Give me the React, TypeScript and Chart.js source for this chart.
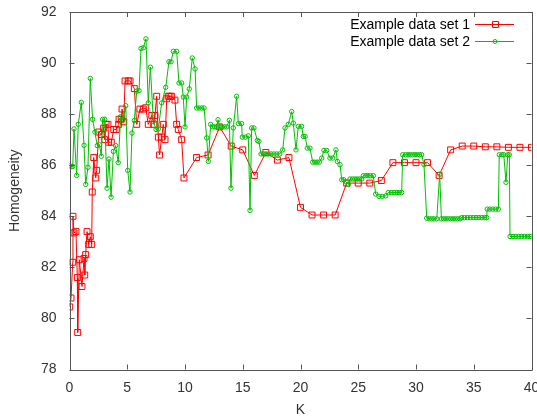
import { useEffect, useRef } from 'react';
import { Chart, registerables } from 'chart.js';

Chart.register(...registerables);

const FONT = '"Liberation Sans", Arial, sans-serif';
const TEXT = '#333333';
const FRAME = '#555555';
const RED = 'rgb(255,0,0)';
const GREEN = 'rgb(0,192,0)';

const seriesNames = ['Example data set 1', 'Example data set 2'];
const xTicks = [0, 5, 10, 15, 20, 25, 30, 35, 40];
const yTicks = [78, 80, 82, 84, 86, 88, 90, 92];

// Example data set 1
const set1K = [
  0.02, 0.13, 0.28, 0.3, 0.39, 0.56, 0.68, 0.71, 0.85, 1.08, 1.26, 1.32, 1.4, 1.52, 1.66, 1.8, 1.92, 1.97,
  2.1, 2.27, 2.35, 2.53, 2.75, 2.96, 3.05, 3.16, 3.33, 3.39, 3.62, 3.83, 4.05, 4.26, 4.29, 4.48, 4.55, 4.7,
  4.81, 5.09, 5.24, 5.61, 5.82, 6.1, 6.39, 6.6, 6.82, 7.12, 7.3, 7.4, 7.55, 7.69, 7.8, 7.98, 8.12, 8.27,
  8.42, 8.55, 8.7, 8.85, 9.13, 9.28, 9.42, 9.71, 9.91,
  11, 12, 13, 14, 15, 16, 17, 18, 19, 20, 21, 22, 23, 24, 25, 26, 27, 28, 29, 30, 31, 32, 33, 34, 35, 36,
  37, 38, 39, 40,
];
const set1H = [
  80.45, 80.8, 82.2, 84.0, 83.35, 83.4, 81.6, 79.45, 82.3, 81.25, 82.35, 81.7, 82.5, 83.4, 82.9, 83.2, 82.9, 84.95,
  86.3, 85.5, 85.8, 87.3, 87.2, 87.45, 87.0, 87.6, 87.6, 86.9, 86.9, 87.4, 87.4, 87.6, 87.8, 87.8, 88.2, 87.7,
  89.3, 89.3, 89.3, 89.0, 87.6, 88.2, 88.2, 88.25, 87.6, 87.95, 87.6, 87.95, 88.7, 87.1, 86.4, 87.1, 87.6, 87.0,
  88.6, 88.7, 88.7, 88.7, 88.55, 87.6, 87.4, 87.0, 85.5,
  86.3, 86.4, 87.5, 86.75, 86.6, 85.6, 86.5, 86.2, 86.3, 84.35, 84.05, 84.05, 84.05, 85.3, 85.3, 85.3, 85.4, 86.1,
  86.1, 86.1, 86.1, 85.6, 86.6, 86.75, 86.75, 86.72, 86.72, 86.7, 86.7, 86.7,
];

// Example data set 2
const set2K = [
  0.0, 0.15, 0.28, 0.39, 0.62, 0.76, 1.02, 1.26, 1.4, 1.6, 1.8, 2.0, 2.2, 2.4, 2.6, 2.75, 2.87, 3.05, 3.25,
  3.42, 3.6, 3.8, 3.99, 4.22, 4.43, 4.66, 4.87, 5.04, 5.24, 5.41, 5.61, 5.82, 6.02, 6.19, 6.39, 6.62, 6.82,
  7.0, 7.26, 7.49, 7.69, 7.98, 8.33, 8.61, 8.79, 8.99, 9.28, 9.48, 9.71, 9.85, 10.0, 10.15, 10.37, 10.63,
  10.87, 11.01, 11.22, 11.45, 11.65, 11.88, 12.02, 12.22, 12.4, 12.57, 12.74, 12.86, 13.02, 13.18, 13.4,
  13.61, 13.84, 13.98, 14.18, 14.47, 14.62, 14.9, 14.96, 15.22, 15.48, 15.63, 15.77, 15.97, 16.26, 16.4,
  16.58, 16.8, 17.0, 17.2, 17.45, 17.7, 17.95, 18.2, 18.46, 18.66, 18.94, 19.24, 19.38, 19.61, 19.81, 20.1,
  20.24, 20.4, 20.59, 20.82, 21.06, 21.25, 21.45, 21.63, 21.84, 22.03, 22.27, 22.55, 22.79, 23.07, 23.19,
  23.42, 23.57, 23.75, 23.95, 24.14, 24.29, 24.5, 24.7, 24.9, 25.1, 25.3, 25.44, 25.65, 25.85, 26.05, 26.3,
  26.51, 26.8, 27.08, 27.38, 27.6, 27.85, 28.1, 28.35, 28.55, 28.76, 28.85, 29.1, 29.3, 29.5, 29.7, 29.9,
  30.1, 30.3, 30.49, 30.69, 30.93, 31.15, 31.35, 31.55, 31.8, 32.05, 32.2, 32.4, 32.6, 32.8, 33.0, 33.2,
  33.4, 33.6, 33.8, 33.96, 34.2, 34.45, 34.7, 34.95, 35.2, 35.45, 35.7, 35.95, 36.12, 36.17, 36.4, 36.65,
  36.9, 37.13, 37.21, 37.45, 37.6, 37.79, 37.95, 38.08, 38.14, 38.4, 38.65, 38.9, 39.15, 39.4, 39.65,
  39.85, 40.0,
];
const set2H = [
  85.98, 85.95, 85.95, 87.42, 85.6, 87.6, 88.46, 86.78, 85.25, 85.92, 89.4, 87.8, 87.3, 86.77, 86.8, 86.35, 87.8, 87.8, 85.1,
  86.24, 84.75, 86.54, 86.77, 86.1, 87.9, 87.8, 88.33, 85.8, 84.95, 87.26, 87.75, 88.9, 88.92, 90.57, 90.6, 90.95, 88.44,
  89.84, 87.72, 87.4, 87.42, 88.44, 89.05, 90.05, 90.05, 90.46, 90.46, 89.22, 89.22, 88.67, 87.5, 88.67, 88.99, 90.2,
  89.77, 88.24, 88.24, 88.24, 88.24, 87.07, 86.15, 87.6, 87.5, 87.5, 87.5, 87.78, 87.5, 87.5, 87.5,
  87.5, 87.76, 85.1, 87.46, 88.7, 87.63, 87.63, 87.1, 87.1, 87.15, 84.23, 87.46, 87.46, 86.97, 86.93,
  86.44, 86.44, 86.44, 86.44, 86.44, 86.44, 86.44, 86.44, 86.6, 87.46, 87.6, 88.1, 87.65, 86.6, 87.52, 87.52,
  87.13, 87.13, 86.67, 86.67, 86.12, 86.12, 86.12, 86.12, 86.28, 86.58, 86.58, 86.28, 86.28, 86.6, 86.15,
  86.02, 85.43, 85.43, 85.35, 85.24, 85.46, 85.46, 85.46, 85.46, 85.46, 85.46, 85.59, 85.59, 85.59, 85.59, 85.59,
  84.87, 84.78, 84.78, 84.8, 84.93, 84.93, 84.93, 84.93, 84.93, 84.93, 86.41, 86.41, 86.41, 86.41, 86.41, 86.41,
  86.41, 86.41, 86.41, 86.02, 83.93, 83.9, 83.9, 83.9, 83.9, 85.65, 83.9, 83.9, 83.9, 83.9, 83.9, 83.9,
  83.9, 83.9, 83.9, 83.95, 83.95, 83.95, 83.95, 83.95, 83.95, 83.95, 83.95, 83.95, 83.95, 84.28, 84.28, 84.28,
  84.28, 84.28, 86.41, 86.41, 86.41, 85.33, 86.41, 86.41, 83.21, 83.21, 83.21, 83.21, 83.21, 83.21, 83.21,
  83.21, 83.21,
];

const framePlugin = {
  id: 'gnuplotFrame',
  afterDraw(chart: any) {
    const { ctx, chartArea: a, scales } = chart;
    const xs = scales.x;
    const ys = scales.y;
    ctx.save();
    ctx.strokeStyle = FRAME;
    ctx.lineWidth = 1;
    ctx.beginPath();
    ctx.rect(Math.round(a.left) + 0.5, Math.round(a.top) + 0.5, Math.round(a.right - a.left), Math.round(a.bottom - a.top));
    ctx.stroke();
    const tl = 5;
    ctx.beginPath();
    xTicks.forEach((v) => {
      const px = Math.round(xs.getPixelForValue(v)) + 0.5;
      ctx.moveTo(px, a.bottom);
      ctx.lineTo(px, a.bottom - tl);
      ctx.moveTo(px, a.top);
      ctx.lineTo(px, a.top + tl);
    });
    yTicks.forEach((v) => {
      const py = Math.round(ys.getPixelForValue(v)) + 0.5;
      ctx.moveTo(a.left, py);
      ctx.lineTo(a.left + tl, py);
      ctx.moveTo(a.right, py);
      ctx.lineTo(a.right - tl, py);
    });
    ctx.stroke();

    // legend
    const colors = [RED, GREEN];
    const rows = [24, 41];
    ctx.font = `14px ${FONT}`;
    ctx.textAlign = 'right';
    ctx.textBaseline = 'middle';
    seriesNames.forEach((name, i) => {
      const y = rows[i];
      ctx.fillStyle = '#000';
      ctx.fillText(name, 470, y + 1);
      ctx.strokeStyle = colors[i];
      ctx.lineWidth = 1;
      ctx.beginPath();
      ctx.moveTo(475, y + 0.5);
      ctx.lineTo(514, y + 0.5);
      ctx.stroke();
      ctx.beginPath();
      if (i === 0) {
        ctx.rect(492.5, y - 2.5, 6, 6);
      } else {
        ctx.arc(495, y + 0.5, 2, 0, Math.PI * 2);
      }
      ctx.stroke();
    });
    ctx.restore();
  },
};

function noPad(s: any) {
  s.paddingLeft = 0;
  s.paddingRight = 0;
  s.paddingTop = 0;
  s.paddingBottom = 0;
}

export default function App() {
  const ref = useRef<HTMLCanvasElement>(null);
  useEffect(() => {
    document.body.style.margin = '0';
    const chart = new Chart(ref.current as HTMLCanvasElement, {
      type: 'line',
      data: {
        datasets: [
          {
            label: seriesNames[1],
            data: set2K.map((k, i) => ({ x: k, y: set2H[i] })),
            borderColor: GREEN,
            backgroundColor: 'transparent',
            borderWidth: 1,
            pointStyle: 'circle',
            pointRadius: 2.2,
            pointBorderWidth: 1,
            pointBorderColor: GREEN,
            pointBackgroundColor: 'transparent',
            tension: 0,
          },
          {
            label: seriesNames[0],
            data: set1K.map((k, i) => ({ x: k, y: set1H[i] })),
            borderColor: RED,
            backgroundColor: 'transparent',
            borderWidth: 1,
            pointStyle: 'rect',
            pointRadius: 4.2,
            pointBorderWidth: 1,
            pointBorderColor: RED,
            pointBackgroundColor: 'transparent',
            tension: 0,
          },
        ],
      },
      options: {
        responsive: false,
        animation: false,
        events: [],
        layout: { padding: { left: 0, right: 5.5, top: 12, bottom: 0 } },
        plugins: { legend: { display: false }, tooltip: { enabled: false } },
        scales: {
          x: {
            type: 'linear',
            min: 0,
            max: 40,
            afterFit: (s: any) => {
              s.height = 50.5;
              noPad(s);
            },
            afterBuildTicks: (s: any) => {
              s.ticks = xTicks.map((v) => ({ value: v }));
            },
            ticks: { color: TEXT, font: { family: FONT, size: 14 }, padding: 10, maxRotation: 0 },
            grid: { display: false, drawTicks: false },
            border: { display: false },
            title: { display: true, text: 'K', color: TEXT, font: { family: FONT, size: 14 }, padding: { top: 0, bottom: 1 } },
          },
          y: {
            type: 'linear',
            min: 78,
            max: 92,
            afterFit: (s: any) => {
              s.width = 69.5;
              noPad(s);
            },
            afterBuildTicks: (s: any) => {
              s.ticks = yTicks.map((v) => ({ value: v }));
            },
            ticks: { color: TEXT, font: { family: FONT, size: 14 }, padding: 13 },
            grid: { display: false, drawTicks: false },
            border: { display: false },
            title: { display: true, text: 'Homogeneity', color: TEXT, font: { family: FONT, size: 14 }, padding: { top: 7, bottom: 0 } },
          },
        },
      },
      plugins: [framePlugin],
    });
    return () => chart.destroy();
  }, []);
  return (
    <div style={{ width: 537, height: 420 }}>
      <canvas ref={ref} width={537} height={420} />
    </div>
  );
}
